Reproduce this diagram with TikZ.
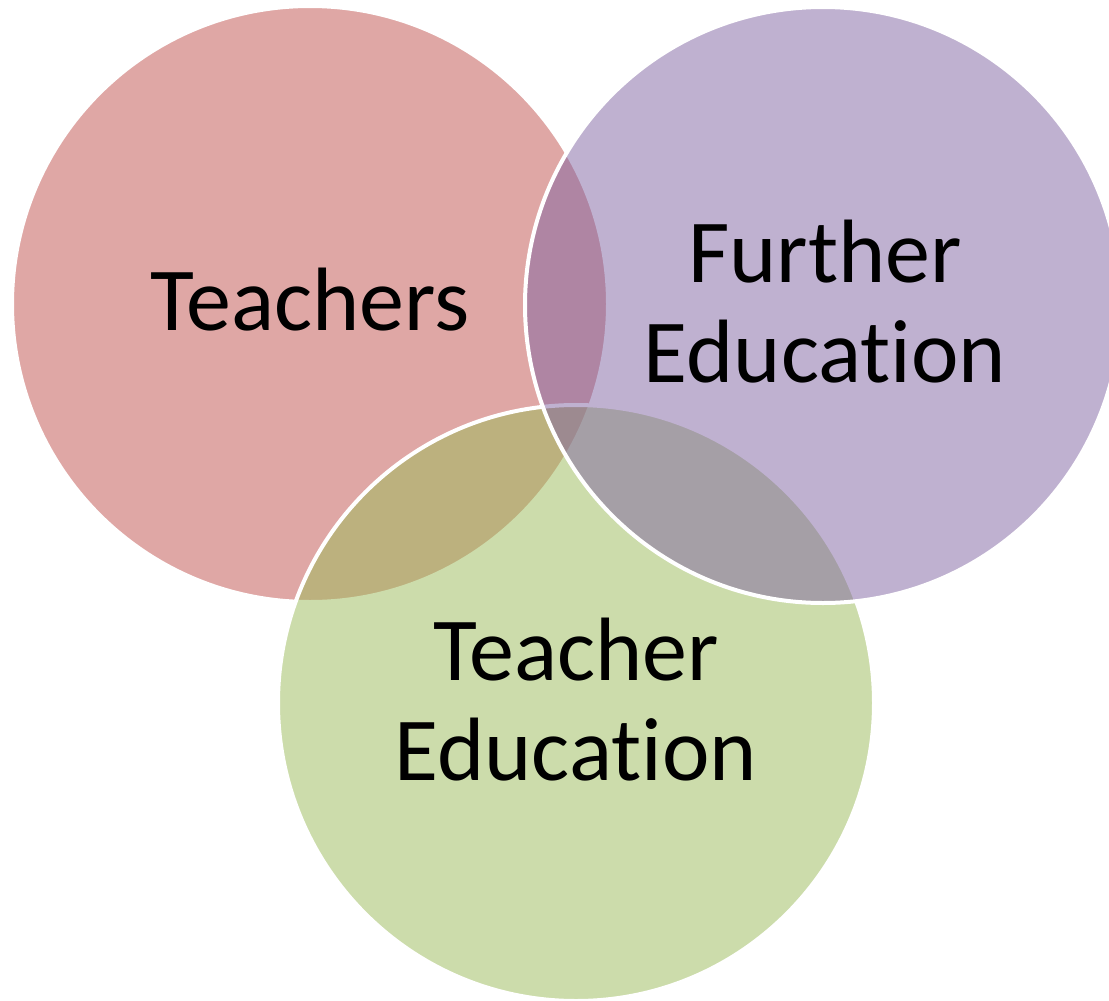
\documentclass[tikz,border=0pt]{standalone}
\usepackage{fontspec}
\setmainfont{Carlito}[Ligatures=NoCommon]
\definecolor{cred}{HTML}{C0504D}
\definecolor{cpurple}{HTML}{8064A2}
\definecolor{cgreen}{HTML}{9BBB59}
\begin{document}
\begin{tikzpicture}[x=1pt,y=1pt,
  venn/.style={circle, minimum size=596pt, inner sep=0pt, fill opacity=0.5, draw=white, draw opacity=1, line width=4pt},
  lbl/.style={align=center, inner sep=0pt, text=black, font={\fontsize{90}{100}\selectfont}}]
\useasboundingbox (0,0) rectangle (1109,-1001);
\fill[white] (0,0) rectangle (1109,-1001);
\node[venn, fill=cred] (teach) at (310,-304) {};
\node[venn, fill=cgreen] (tedu) at (576,-703) {};
\node[venn, fill=cpurple] (fedu) at (823,-305) {};
\node[lbl, anchor=base] (tl) at (310,-330) {Teachers};
\node[lbl] (fl) at (825,-302) {Further\\Education};
\node[lbl] (tel) at (576,-700) {Teacher\\Education};
\end{tikzpicture}
\end{document}
